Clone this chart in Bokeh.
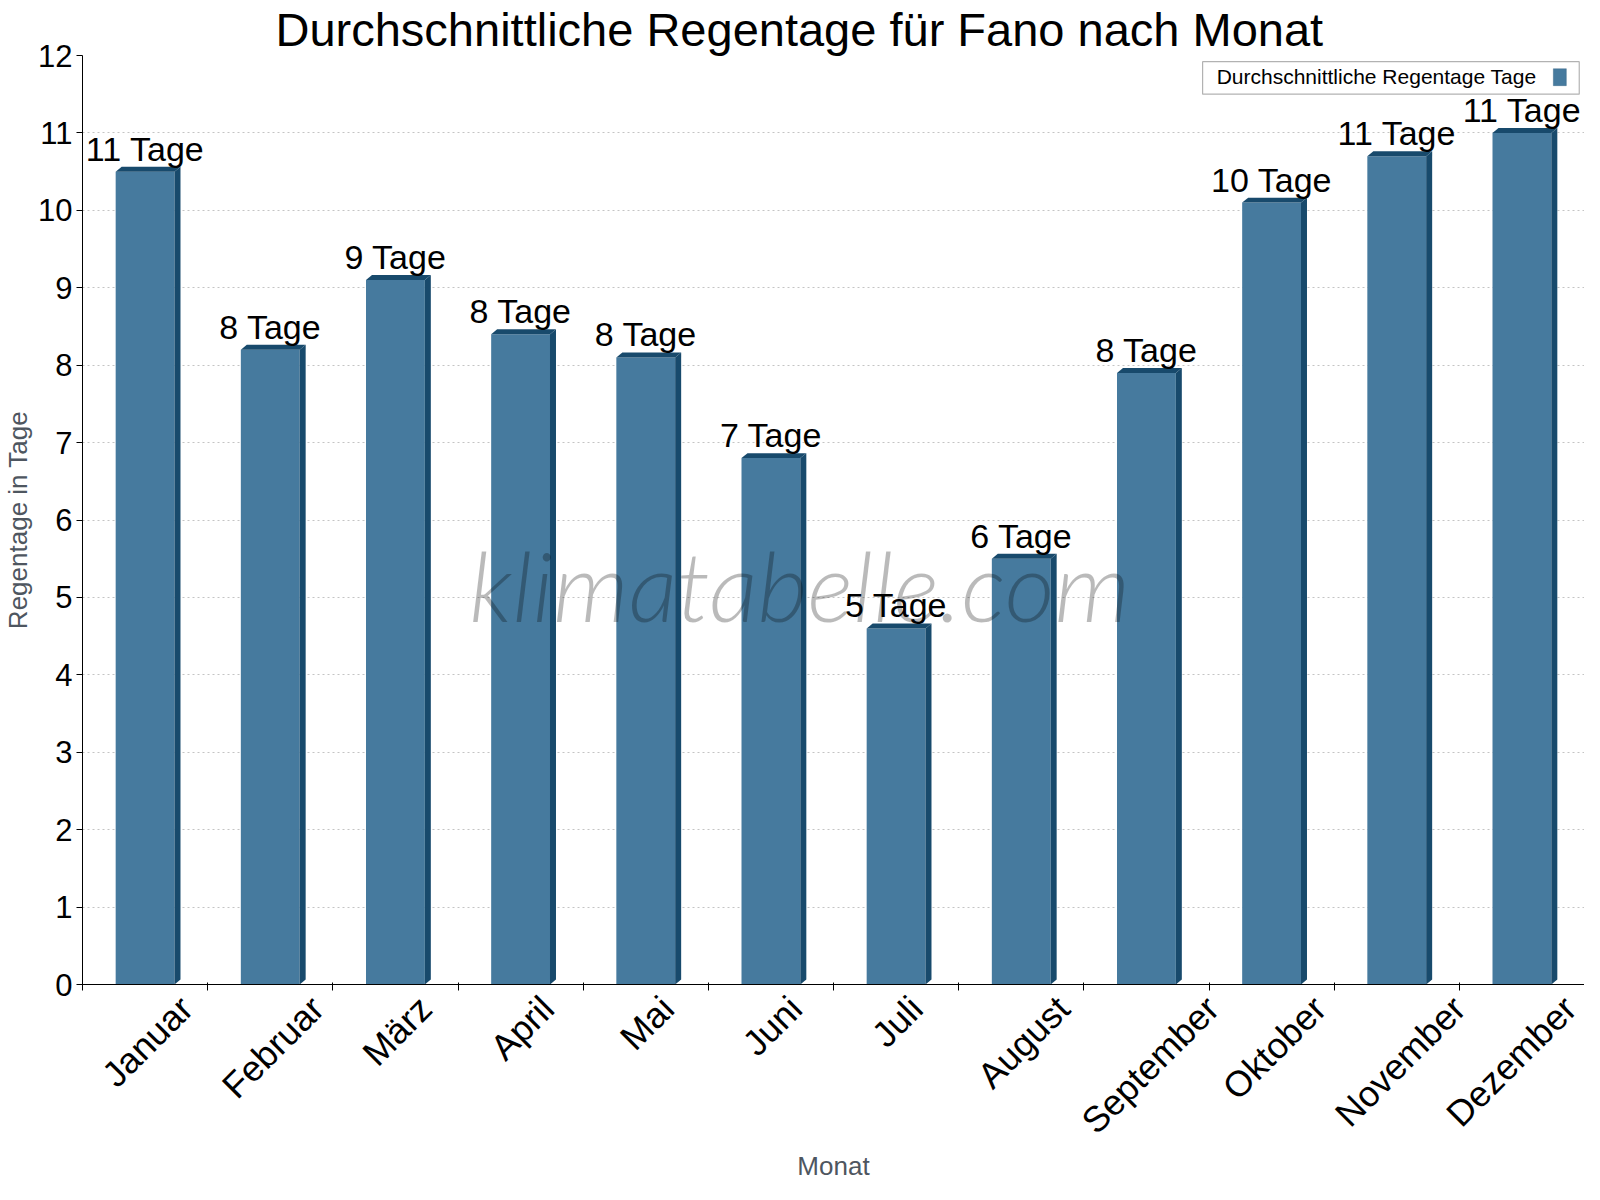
import math
from bokeh.plotting import figure
from bokeh.models import FixedTicker, LinearAxis, Range1d, Label, BoxAnnotation
from bokeh.core.properties import value
from bokeh.embed import file_html
from bokeh.resources import INLINE

# ---------------- data ----------------
months = ["Januar", "Februar", "März", "April", "Mai", "Juni",
          "Juli", "August", "September", "Oktober", "November", "Dezember"]
rain_days = [10.5, 8.2, 9.1, 8.4, 8.1, 6.8, 4.6, 5.5, 7.9, 10.1, 10.7, 11.0]
y_ticks = list(range(0, 13))
series_name = "Durchschnittliche Regentage Tage"
title_text = "Durchschnittliche Regentage für Fano nach Monat"
y_label = "Regentage in Tage"
x_label = "Monat"
watermark = "klimatabelle.com"

# ---------------- style ----------------
FONT = "Liberation Sans"
FRONT = "#467a9e"
DARK = "#184a6c"
AXIS_GREY = "#4e5660"
BAR_W = 0.47          # fraction of a category
CAT_PX = 125.3        # approx. pixel width of a category
DX = 6 / CAT_PX       # 3D depth (x, data units)
DY = 5 / 78.5         # 3D depth (y, data units)

# approximate Arial advance widths (em) -> used to mimic centre-rotated labels
_W = {"J": .5, "a": .556, "n": .556, "u": .556, "r": .333, "F": .611, "e": .556,
      "b": .556, "M": .833, "ä": .556, "z": .5, "A": .667, "p": .556, "i": .222,
      "l": .222, "g": .556, "s": .5, "t": .278, "S": .667, "m": .833, "O": .778,
      "k": .5, "o": .556, "N": .722, "v": .5, "D": .722}


def em_width(s):
    return sum(_W.get(ch, .556) for ch in s)


centers = [i + 0.5 for i in range(len(months))]
bounds = list(range(len(months) + 1))

p = figure(width=1584, height=1184, x_range=Range1d(0, 12), y_range=Range1d(0, 12),
           output_backend="svg", toolbar_location=None,
           min_border_left=74, min_border_right=0, min_border_top=40, min_border_bottom=197)
p.background_fill_color = "white"
p.border_fill_color = "white"
p.outline_line_color = None

p.title.text = title_text
p.title.text_font = FONT
p.title.text_font_size = "47px"
p.title.text_font_style = "normal"
p.title.text_color = "black"
p.title.text_line_height = 1.0
p.title.align = "left"
p.title.offset = 193
p.title.standoff = 0

# grid
p.xgrid.visible = False
p.ygrid.grid_line_color = "#c4c4c4"
p.ygrid.grid_line_dash = "2 3"
p.ygrid.ticker = FixedTicker(ticks=y_ticks)

# y axis
ya = p.yaxis[0]
ya.ticker = FixedTicker(ticks=y_ticks, minor_ticks=[])
ya.major_label_text_font = FONT
ya.major_label_text_font_size = "31px"
ya.major_label_text_color = "black"
ya.major_tick_out = 6
ya.major_tick_in = 0
ya.minor_tick_line_color = None
ya.axis_line_color = "black"
ya.major_tick_line_color = "black"
ya.major_label_standoff = 4
ya.axis_label = y_label
ya.axis_label_text_font = FONT
ya.axis_label_text_font_size = "26px"
ya.axis_label_text_font_style = "normal"
ya.axis_label_text_color = AXIS_GREY
ya.axis_label_standoff = 2

# x axis: labels at shifted centres, tick marks at category boundaries (minor ticks)
label_pos = [c + 13.5 * em_width(m) / CAT_PX for c, m in zip(centers, months)]
xa = p.xaxis[0]
xa.ticker = FixedTicker(ticks=label_pos, minor_ticks=bounds)
xa.major_label_overrides = {pos: m for pos, m in zip(label_pos, months)}
xa.major_label_orientation = math.pi / 4
xa.major_label_text_font = FONT
xa.major_label_text_font_size = "36px"
xa.major_label_text_color = "black"
xa.major_tick_line_color = None
xa.major_tick_out = 6
xa.major_tick_in = 0
xa.minor_tick_line_color = "black"
xa.minor_tick_out = 6
xa.minor_tick_in = 2
xa.axis_line_color = "black"
xa.major_label_standoff = 12
xa.axis_label = x_label
xa.axis_label_text_font = FONT
xa.axis_label_text_font_size = "26px"
xa.axis_label_text_font_style = "normal"
xa.axis_label_text_color = AXIS_GREY
xa.axis_label_standoff = -8

# right border line
ra = LinearAxis(ticker=FixedTicker(ticks=[]), axis_line_color="black",
                major_label_text_font_size="0px", major_tick_line_color=None,
                minor_tick_line_color=None)
p.add_layout(ra, "right")

# ---------------- bars (3D look) ----------------
p.vbar(x=centers, top=rain_days, bottom=0, width=BAR_W,
       fill_color=FRONT, line_color=None)

top_xs, top_ys, side_xs, side_ys = [], [], [], []
for c, v in zip(centers, rain_days):
    x0, x1 = c - BAR_W / 2, c + BAR_W / 2
    top_xs.append([x0, x0 + DX, x1 + DX, x1])
    top_ys.append([v, v + DY, v + DY, v])
    side_xs.append([x1, x1 + DX, x1 + DX, x1])
    side_ys.append([0, DY, v + DY, v])
p.patches(xs=top_xs, ys=top_ys, fill_color=DARK, line_color=None)
p.patches(xs=side_xs, ys=side_ys, fill_color=DARK, line_color=None)

labels = [f"{math.floor(v + 0.5)} Tage" for v in rain_days]
p.text(x=centers, y=[v + DY for v in rain_days], text=labels,
       text_align="center", text_baseline="alphabetic", y_offset=-18,
       text_font=value(FONT), text_font_size="34px", text_color="black")

# watermark
p.add_layout(Label(x=5.73, y=5.17, text=watermark, text_align="center",
                   text_baseline="alphabetic", text_font="Lato Light",
                   text_font_style="italic", text_font_size="97px",
                   text_color="black", text_alpha=0.27))

# legend (label left of swatch)
p.add_layout(BoxAnnotation(left=8.949, right=11.958, top=11.92, bottom=11.50,
                           fill_color="white", fill_alpha=1.0,
                           line_color="black", line_width=1.2))
p.add_layout(Label(x=9.061, y=11.634, y_offset=7, text=series_name, text_align="left",
                   text_baseline="alphabetic", text_font=FONT,
                   text_font_size="21px", text_color="black"))
p.add_layout(BoxAnnotation(left=11.751, right=11.855, top=11.83, bottom=11.61,
                           fill_color=FRONT, fill_alpha=1.0,
                           line_color=DARK, line_width=1))

open("out.html", "w").write(file_html(p, INLINE))
